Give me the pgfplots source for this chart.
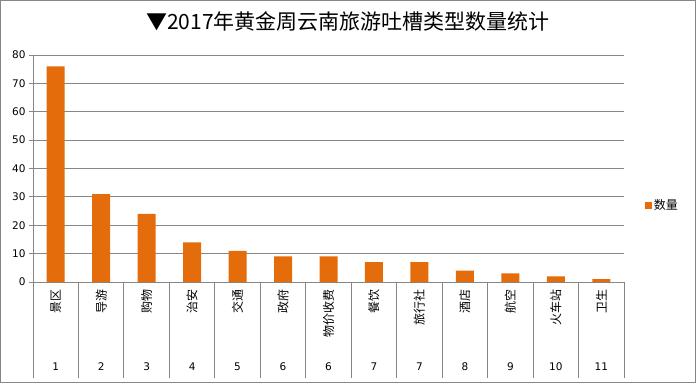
\documentclass[border=0pt]{standalone}
\usepackage{pgfplots}
\pgfplotsset{compat=1.18}
\usepackage{fontspec}
\setmainfont{DejaVu Sans}
\newfontfamily\cjk{Noto Sans CJK SC}
\definecolor{barc}{RGB}{228,108,10}
\definecolor{gridc}{RGB}{134,134,134}
\begin{document}
\begin{tikzpicture}[x=1pt,y=1pt]
\useasboundingbox (0,0) rectangle (696,383);
\draw[gridc, line width=0.8pt] (0.5,0.5) rectangle (695.5,382.5);
\node[font=\cjk\fontsize{21}{24}\selectfont] at (348,362) {▼2017年黄金周云南旅游吐槽类型数量统计};
\begin{axis}[at={(33pt,101pt)}, anchor=south west, scale only axis,
  width=591pt, height=227pt,
  ybar, bar width=18pt,
  xmin=-0.5, xmax=12.5, ymin=0, ymax=80, ytick={0,10,...,80},
  axis lines=left, axis line style={-, gridc, line width=1pt},
  ymajorgrids, grid style={gridc, line width=1pt},
  tick align=outside, major tick length=4pt, tick style={gridc, line width=1pt},
  major x tick style={draw=none},
  xtick={0,...,12},
  xticklabels={{\rotatebox{90}{景区}},{\rotatebox{90}{导游}},{\rotatebox{90}{购物}},{\rotatebox{90}{治安}},{\rotatebox{90}{交通}},{\rotatebox{90}{政府}},{\rotatebox{90}{物价收费}},{\rotatebox{90}{餐饮}},{\rotatebox{90}{旅行社}},{\rotatebox{90}{酒店}},{\rotatebox{90}{航空}},{\rotatebox{90}{火车站}},{\rotatebox{90}{卫生}}},
  xticklabel style={anchor=north, font=\cjk\fontsize{12}{14}\selectfont},
  minor xtick={-0.5,0.5,...,12.5}, minor tick length=96pt,
  extra x ticks={0,...,12},
  extra x tick labels={1,2,3,4,5,6,6,7,7,8,9,10,11},
  extra x tick style={grid=none, xticklabel style={yshift=-73pt, font=\fontsize{10.5}{12}\selectfont}},
  yticklabel style={font=\fontsize{10.5}{12}\selectfont},
  /pgf/number format/assume math mode=true,
  legend style={at={(1.03,0.339)}, anchor=west, draw=none, fill=none, font=\cjk\fontsize{12}{14}\selectfont},
  legend image code/.code={\fill[barc] (0pt,-3.5pt) rectangle (7pt,3.5pt);},
]
\addplot[fill=barc, draw=none] coordinates {(0,76) (1,31) (2,24) (3,14) (4,11) (5,9) (6,9) (7,7) (8,7) (9,4) (10,3) (11,2) (12,1)};
\addlegendentry{数量}
\end{axis}
\end{tikzpicture}
\end{document}
